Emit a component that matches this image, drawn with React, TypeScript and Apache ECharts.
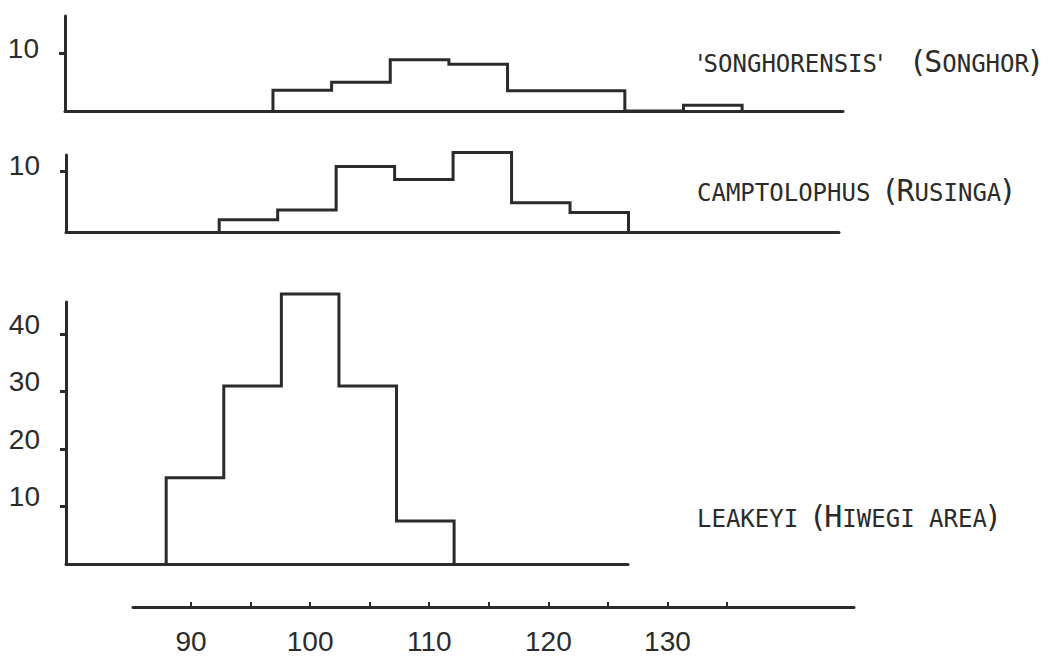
import React, { useEffect, useRef } from "react";
import * as echarts from "echarts";

// ---- data ----
const BIN_WIDTH = 5;

const songhorEdges = [97.5, 102.5, 107.5, 112.5, 117.5, 122.5, 127.5, 132.5];
const songhorCounts = [3.6, 5, 8.9, 8.1, 3.5, 3.5, 0, 1];

const rusingaEdges = [92.5, 97.5, 102.5, 107.5, 112.5, 117.5, 122.5];
const rusingaCounts = [2, 3.6, 10.7, 8.6, 13, 4.8, 3.2];

const hiwegiEdges = [87.5, 92.5, 97.5, 102.5, 107.5];
const hiwegiCounts = [15, 31, 47, 31, 7.5];

const topYTicks = [10];
const midYTicks = [10];
const bottomYTicks = [10, 20, 30, 40];

const xTickValues = [90, 95, 100, 105, 110, 115, 120, 125, 130, 135];
const xLabelValues = [90, 100, 110, 120, 130];

const panelLabels = [
  "{q|'}{s|SONGHORENSIS}{q|'}{s|  }{p|(}{b|S}{s|ONGHOR}{p|)}",
  "{s|CAMPTOLOPHUS }{p|(}{b|R}{s|USINGA}{p|)}",
  "{s|LEAKEYI }{p|(}{b|H}{s|IWEGI AREA}{p|)}",
];

// ---- helpers ----
function steps(edges: number[], counts: number[], w: number): number[][] {
  const pts: number[][] = [];
  edges.forEach((e, i) => {
    const prev = i === 0 ? 0 : counts[i - 1];
    pts.push([e, prev]);
    pts.push([e, counts[i]]);
  });
  const last = edges[edges.length - 1] + w;
  pts.push([last, counts[counts.length - 1]]);
  pts.push([last, 0]);
  return pts;
}

const INK = "#2b2b2b";
const NUM_FONT = "'Liberation Sans', Arial, sans-serif";
const MONO = "'DejaVu Sans Mono', 'Liberation Mono', monospace";
const PROP = "'DejaVu Sans', sans-serif";

export default function App() {
  const ref = useRef<HTMLDivElement>(null);

  useEffect(() => {
    document.body.style.margin = "0";
    if (!ref.current) return;
    const chart = echarts.init(ref.current, undefined, { renderer: "svg" });

    const panels = [
      { grid: { left: 65, top: 16, width: 778, height: 95 }, xMin: 79.77, xMax: 146.1, yMax: 16.5, ticks: topYTicks, lift: 5, data: steps(songhorEdges, songhorCounts, BIN_WIDTH) },
      { grid: { left: 66, top: 155, width: 773, height: 77 }, xMin: 79.4, xMax: 145.5, yMax: 12.6, ticks: midYTicks, lift: 5, data: steps(rusingaEdges, rusingaCounts, BIN_WIDTH) },
      { grid: { left: 66, top: 302, width: 562, height: 262 }, xMin: 78.8, xMax: 127.6, yMax: 45.6, ticks: bottomYTicks, lift: 10, data: steps(hiwegiEdges, hiwegiCounts, BIN_WIDTH) },
    ];

    const grids: any[] = panels.map((p) => p.grid);
    grids.push({ left: 133, top: 597, width: 721, height: 10 });

    const xAxes: any[] = panels.map((p, i) => ({
      type: "value",
      gridIndex: i,
      min: p.xMin,
      max: p.xMax,
      axisLine: { show: true, onZero: false, lineStyle: { color: INK, width: 3 } },
      axisTick: { show: false },
      axisLabel: { show: false },
      splitLine: { show: false },
    }));
    xAxes.push({
      type: "value",
      gridIndex: 3,
      min: 85.13,
      max: 145.66,
      axisLine: { show: true, onZero: false, lineStyle: { color: INK, width: 3 } },
      axisTick: { show: true, inside: true, length: 5, customValues: xTickValues, lineStyle: { color: INK, width: 2 } },
      axisLabel: { show: true, customValues: xLabelValues, color: INK, fontSize: 28, fontFamily: NUM_FONT, margin: 20 },
      splitLine: { show: false },
    });

    const yAxes: any[] = panels.map((p, i) => ({
      type: "value",
      gridIndex: i,
      min: 0,
      max: p.yMax,
      axisLine: { show: true, onZero: false, lineStyle: { color: INK, width: 3 } },
      axisTick: { show: true, length: 6, customValues: p.ticks, lineStyle: { color: INK, width: 3 } },
      axisLabel: {
        show: true,
        customValues: p.ticks,
        color: INK,
        fontSize: 28,
        fontFamily: NUM_FONT,
        margin: 26,
        verticalAlign: "bottom",
        lineHeight: p.lift * 2,
      },
      splitLine: { show: false },
    }));
    yAxes.push({ type: "value", gridIndex: 3, show: false, min: 0, max: 1 });

    const series: any[] = panels.map((p, i) => ({
      type: "line",
      xAxisIndex: i,
      yAxisIndex: i,
      data: p.data,
      showSymbol: false,
      symbol: "none",
      clip: false,
      z: 5,
      lineStyle: { color: INK, width: 3, join: "miter" },
    }));

    const labelTops = [46, 175, 501];
    const graphic = panelLabels.map((t, i) => ({
      type: "text",
      left: 697,
      top: labelTops[i],
      style: {
        text: t,
        fill: INK,
        rich: {
          s: { fontSize: 24, fontFamily: MONO, fill: INK, verticalAlign: "bottom", lineHeight: 30 },
          q: { fontSize: 24, fontFamily: PROP, fill: INK, verticalAlign: "bottom", lineHeight: 30 },
          b: { fontSize: 30, fontFamily: MONO, fill: INK, verticalAlign: "bottom", lineHeight: 30 },
          p: { fontSize: 30, fontFamily: PROP, fill: INK, verticalAlign: "bottom", lineHeight: 30 },
        },
      },
    }));

    chart.setOption({
      animation: false,
      backgroundColor: "#ffffff",
      grid: grids,
      xAxis: xAxes,
      yAxis: yAxes,
      series,
      graphic,
    });

    return () => chart.dispose();
  }, []);

  return <div ref={ref} style={{ width: 1052, height: 662 }} />;
}
